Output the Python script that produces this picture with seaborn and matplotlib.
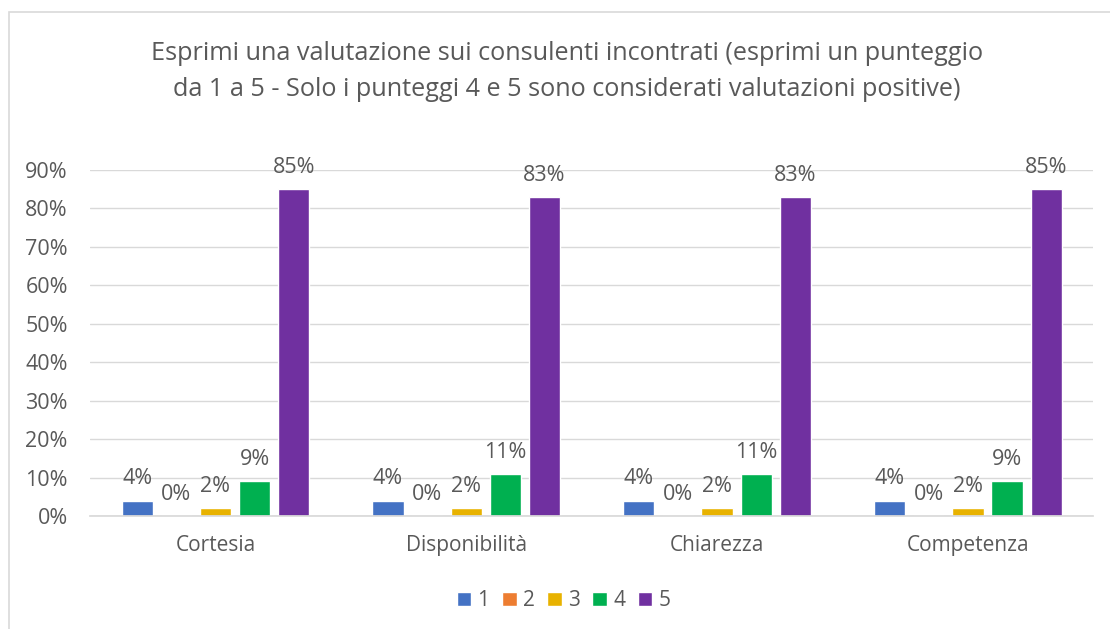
import matplotlib
matplotlib.use("Agg")
import matplotlib.pyplot as plt
import seaborn as sns
import pandas as pd
from matplotlib.patches import Rectangle

categories = ["Cortesia", "Disponibilità", "Chiarezza", "Competenza"]
scores = ["1", "2", "3", "4", "5"]
v1 = [4, 4, 4, 4]
v2 = [0, 0, 0, 0]
v3 = [2, 2, 2, 2]
v4 = [9, 11, 11, 9]
v5 = [85, 83, 83, 85]
colors = ["#4472C4", "#ED7D31", "#E8B200", "#00B050", "#7030A0"]

rows = []
for s, vals in zip(scores, [v1, v2, v3, v4, v5]):
    for c, v in zip(categories, vals):
        rows.append({"cat": c, "score": s, "val": v})
df = pd.DataFrame(rows)

sns.set_theme(style="white")
plt.rcParams['font.family'] = ['Open Sans', 'DejaVu Sans']
txt = "#595959"

fig = plt.figure(figsize=(11.1, 6.29), dpi=100)
ax = fig.add_axes([0.0811, 0.1797, 0.9039, 0.55])
fig.patches.append(Rectangle((9/1110, 1 - 1000/629), 2000/1110, (1000 - 12)/629,
                             transform=fig.transFigure, fill=False, edgecolor="#d9d9d9", linewidth=1.2))

sns.barplot(data=df, x="cat", y="val", hue="score", palette=colors, ax=ax,
            width=0.78, gap=0.2, saturation=1, legend=True)

for cont in ax.containers:
    ax.bar_label(cont, labels=[f"{int(v)}%" for v in cont.datavalues], padding=8,
                 fontsize=15.5, color=txt)

ax.set_ylim(0, 90)
ax.set_yticks(range(0, 91, 10))
ax.set_yticklabels([f"{t}%" for t in range(0, 91, 10)], fontsize=15.5, color=txt)
ax.tick_params(axis="x", labelsize=15, colors=txt, length=0, pad=14)
ax.tick_params(axis="y", length=0, pad=16)
ax.set_xlabel("")
ax.set_ylabel("")
ax.grid(axis="y", color="#d9d9d9", linewidth=1)
ax.set_axisbelow(True)
for s in ["top", "right", "left"]:
    ax.spines[s].set_visible(False)
ax.spines["bottom"].set_color("#d9d9d9")
ax.set_xlim(-0.5, 3.5)

handles, labels = ax.get_legend_handles_labels()
ax.legend(handles, labels, loc="center", bbox_to_anchor=(0.472, -0.245), ncol=5, frameon=False,
          fontsize=15, handlelength=0.7, handleheight=0.7, handletextpad=0.3, columnspacing=0.6,
          labelcolor=txt)

fig.text(0.511, 1 - 53/629, "Esprimi una valutazione sui consulenti incontrati (esprimi un punteggio",
         ha="center", va="center", fontsize=18.2, color=txt)
fig.text(0.511, 1 - 89/629, "da 1 a 5 - Solo i punteggi 4 e 5 sono considerati valutazioni positive)",
         ha="center", va="center", fontsize=18.2, color=txt)

fig.savefig("out.png", dpi=100)
